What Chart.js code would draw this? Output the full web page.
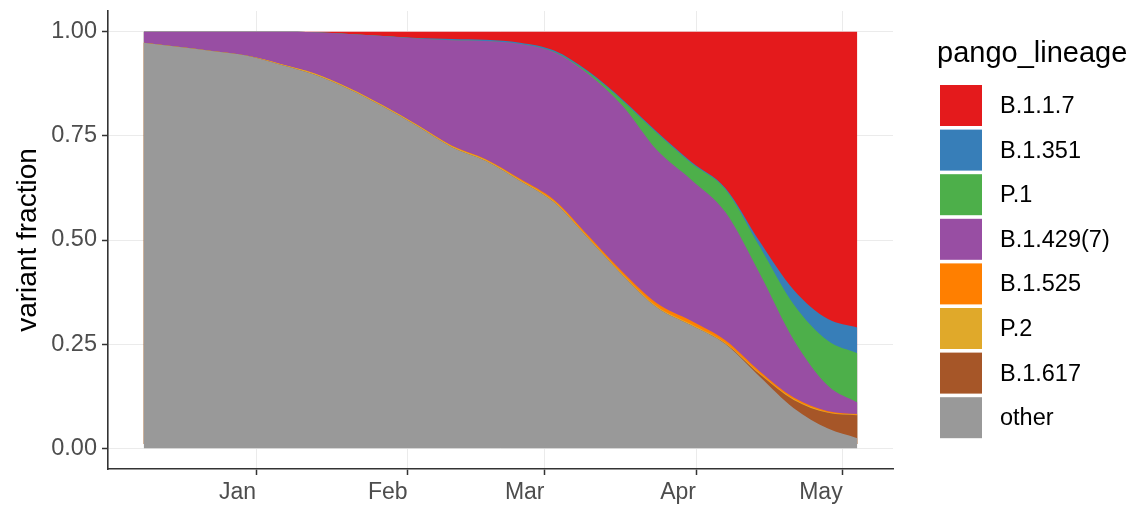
<!DOCTYPE html>
<html>
<head>
<meta charset="utf-8">
<script src="https://cdn.jsdelivr.net/npm/chart.js@4.4.1/dist/chart.umd.min.js"></script>
<style>
  html, body { margin: 0; padding: 0; background: #ffffff; overflow: hidden; }
  #wrap { width: 1142px; height: 506px; }
</style>
</head>
<body>
<div id="wrap"><canvas id="chart" width="1142" height="506"></canvas></div>
<script>
// Sampling dates (weekly smoothed estimates)
const sampleDates = [
  '2020-12-09', '2020-12-16', '2020-12-23', '2020-12-30',
  '2021-01-06', '2021-01-13', '2021-01-20', '2021-01-27',
  '2021-02-03', '2021-02-10', '2021-02-17', '2021-02-24',
  '2021-03-03', '2021-03-10', '2021-03-17', '2021-03-24',
  '2021-03-31', '2021-04-07', '2021-04-14', '2021-04-21',
  '2021-04-28', '2021-05-04'
];

// Month tick positions and their labels
const monthTicks = ['2021-01-01', '2021-02-01', '2021-03-01', '2021-04-01', '2021-05-01'];
const monthLabels = ['Jan', 'Feb', 'Mar', 'Apr', 'May'];

// Y-axis ticks
const fractionTicks = [0, 0.25, 0.5, 0.75, 1];

// Variant fractions per lineage (stacked bottom to top)
const other   = [0.974, 0.964, 0.954, 0.943, 0.921, 0.897, 0.862, 0.820, 0.773, 0.723, 0.690,
                 0.642, 0.590, 0.503, 0.415, 0.338, 0.295, 0.250, 0.172, 0.096, 0.047, 0.024];
const b1617   = [0, 0, 0, 0, 0, 0, 0, 0, 0, 0, 0,
                 0, 0, 0, 0, 0, 0, 0.001, 0.006, 0.020, 0.038, 0.055];
const p2      = [0, 0, 0, 0, 0.002, 0.003, 0.003, 0.003, 0.003, 0.003, 0.003,
                 0.003, 0.003, 0.003, 0.003, 0.003, 0.003, 0.002, 0.002, 0.002, 0.001, 0.001];
const b1525   = [0, 0, 0, 0, 0, 0, 0, 0, 0, 0.001, 0.001,
                 0.002, 0.003, 0.004, 0.005, 0.007, 0.008, 0.006, 0.005, 0.004, 0.003, 0.002];
const b1429   = [0.026, 0.036, 0.046, 0.057, 0.077, 0.099, 0.130, 0.167, 0.208, 0.253, 0.284,
                 0.324, 0.355, 0.388, 0.399, 0.368, 0.339, 0.308, 0.235, 0.138, 0.061, 0.028];
const p1      = [0, 0, 0, 0, 0, 0, 0, 0, 0, 0, 0,
                 0, 0.001, 0.004, 0.012, 0.041, 0.040, 0.055, 0.065, 0.085, 0.108, 0.118];
const b1351   = [0, 0, 0, 0, 0, 0, 0, 0, 0.001, 0.003, 0.003,
                 0.003, 0.003, 0.003, 0.003, 0.003, 0.003, 0.003, 0.012, 0.035, 0.052, 0.062];
const b117    = [0, 0, 0, 0, 0, 0.001, 0.005, 0.010, 0.015, 0.017, 0.019,
                 0.026, 0.045, 0.095, 0.163, 0.240, 0.312, 0.375, 0.503, 0.620, 0.690, 0.710];

const lineageNames  = ['other', 'B.1.617', 'P.2', 'B.1.525', 'B.1.429(7)', 'P.1', 'B.1.351', 'B.1.1.7'];
const lineageValues = [other, b1617, p2, b1525, b1429, p1, b1351, b117];
const lineageColors = ['#999999', '#A65628', '#E0A92A', '#FF7F00', '#984EA3', '#4DAF4A', '#377EB8', '#E41A1C'];

const FONT = '"Liberation Sans", Arial, Helvetica, sans-serif';
const EPOCH = Date.UTC(2021, 0, 1);
function dayOf(iso) {
  const [y, m, d] = iso.split('-').map(Number);
  return (Date.UTC(y, m - 1, d) - EPOCH) / 86400000;
}
const xs = sampleDates.map(dayOf);
const firstDay = xs[0], lastDay = xs[xs.length - 1];
const pad = (lastDay - firstDay) * 0.05;

// Each layer is filled from its stacked top down into the "other" band, which is
// painted last on top; this avoids hairline seams between neighbouring layers.
const datasets = lineageNames.map((name, i) => ({
  label: name,
  data: lineageValues[i].map((v, j) => ({ x: xs[j], y: v })),
  backgroundColor: lineageColors[i],
  borderColor: lineageColors[i],
  borderWidth: 0,
  pointRadius: 0,
  fill: i === 0 ? 'origin' : { value: 0.01 },
  cubicInterpolationMode: 'monotone'
}));

// Legend drawn as a vertical key column with a title
const keyLegend = {
  id: 'keyLegend',
  afterDraw(chart, args, o) {
    const ctx = chart.ctx;
    ctx.save();
    ctx.fillStyle = '#000000';
    ctx.textAlign = 'left';
    ctx.textBaseline = 'alphabetic';
    ctx.font = `${o.titleSize}px ${FONT}`;
    ctx.fillText(o.title, o.titleX, o.titleBaseline);
    const items = chart.data.datasets.slice().reverse();
    ctx.font = `${o.labelSize}px ${FONT}`;
    ctx.textBaseline = 'middle';
    items.forEach((ds, i) => {
      const top = o.keyTop + i * o.step;
      ctx.fillStyle = ds.backgroundColor;
      ctx.fillRect(o.keyX, top, o.keyW, o.keyH);
      ctx.fillStyle = '#000000';
      ctx.fillText(ds.label, o.labelX, top + o.keyH / 2 + 1);
    });
    ctx.restore();
  }
};

new Chart(document.getElementById('chart'), {
  type: 'line',
  data: { datasets },
  plugins: [keyLegend],
  options: {
    responsive: false,
    animation: false,
    devicePixelRatio: 1,
    events: [],
    layout: { padding: { left: 0, top: 11, right: 249, bottom: 0 } },
    plugins: {
      legend: { display: false },
      tooltip: { enabled: false },
      keyLegend: {
        title: 'pango_lineage', titleSize: 29, titleX: 937, titleBaseline: 62,
        keyX: 940, keyW: 42, keyH: 41, keyTop: 85, step: 44.6,
        labelX: 1000, labelSize: 23.5
      }
    },
    scales: {
      x: {
        type: 'linear',
        min: firstDay - pad,
        max: lastDay + pad,
        afterBuildTicks: (s) => { s.ticks = monthTicks.map(d => ({ value: dayOf(d) })); },
        afterFit: (s) => { s.height = 37; s.paddingLeft = 0; s.paddingRight = 0; },
        ticks: {
          align: 'end',
          padding: 4,
          color: '#4D4D4D',
          font: { family: FONT, size: 23 },
          maxRotation: 0,
          autoSkip: false,
          callback: (v, i) => monthLabels[i]
        },
        grid: { color: '#EBEBEB', lineWidth: 1, tickColor: '#333333', tickLength: 6, tickWidth: 1.5 },
        border: { display: true, color: '#333333', width: 1.6 }
      },
      y: {
        stacked: true,
        min: -0.05,
        max: 1.05,
        afterBuildTicks: (s) => { s.ticks = fractionTicks.map(v => ({ value: v })); },
        afterFit: (s) => { s.width = 108; s.paddingTop = 0; s.paddingBottom = 0; },
        ticks: {
          padding: 5,
          color: '#4D4D4D',
          font: { family: FONT, size: 23.5 },
          callback: (v) => Number(v).toFixed(2)
        },
        title: {
          display: true,
          text: 'variant fraction',
          color: '#000000',
          font: { family: FONT, size: 28 },
          padding: { top: 11, bottom: 0 }
        },
        grid: { color: '#EBEBEB', lineWidth: 1, tickColor: '#333333', tickLength: 6, tickWidth: 1.5 },
        border: { display: true, color: '#333333', width: 1.6 }
      }
    }
  }
});
</script>
</body>
</html>
